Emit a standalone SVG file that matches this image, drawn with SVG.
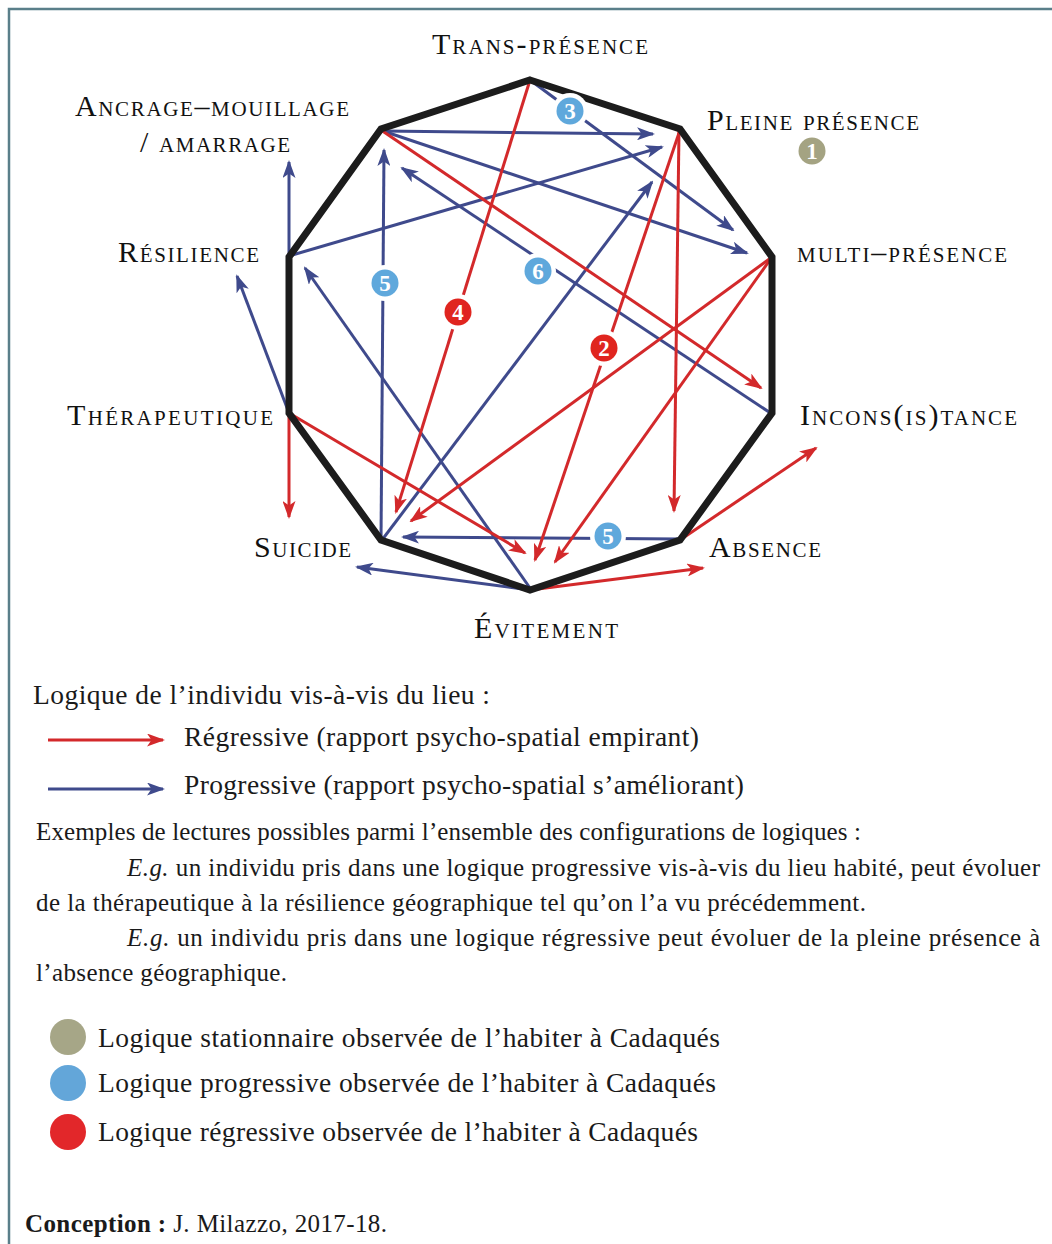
<svg xmlns="http://www.w3.org/2000/svg" width="1052" height="1244" viewBox="0 0 1052 1244">
<style>
.lbl{font-family:"Liberation Serif",serif;font-variant:small-caps;font-size:30px;fill:#111}
.txt{font-family:"Liberation Serif",serif;font-size:27.5px;fill:#1a1a1a}
.sm{font-family:"Liberation Serif",serif;font-size:25px;fill:#1a1a1a}
.b{stroke:#3f4a8c;stroke-width:3;fill:none}
.r{stroke:#d3292b;stroke-width:3;fill:none}
.ba{marker-end:url(#ab)}
.ra{marker-end:url(#ar)}
.num{font-family:"Liberation Serif",serif;font-weight:bold;font-size:23px;fill:#fff;text-anchor:middle}
</style>
<defs>
<marker id="ab" viewBox="0 0 18 13" refX="16" refY="6.5" markerWidth="18" markerHeight="13" markerUnits="userSpaceOnUse" orient="auto"><path d="M0,0 L18,6.5 L0,13 L4.5,6.5 Z" fill="#3f4a8c"/></marker>
<marker id="ar" viewBox="0 0 18 13" refX="16" refY="6.5" markerWidth="18" markerHeight="13" markerUnits="userSpaceOnUse" orient="auto"><path d="M0,0 L18,6.5 L0,13 L4.5,6.5 Z" fill="#d3292b"/></marker>
</defs>
<rect width="1052" height="1244" fill="#fff"/>
<path d="M9,1244 V9 H1052" fill="none" stroke="#5a7f8a" stroke-width="2.5"/>

<g id="connectors">
<line class="b ba" x1="383" y1="131" x2="653" y2="134"/>
<line class="b ba" x1="383" y1="131" x2="747" y2="253"/>
<line class="b ba" x1="289" y1="256" x2="662" y2="147"/>
<line class="b ba" x1="382" y1="540" x2="652" y2="182"/>
<line class="b ba" x1="381" y1="540" x2="384" y2="150"/>
<line class="b ba" x1="772" y1="414" x2="402" y2="168"/>
<line class="b ba" x1="530" y1="80" x2="733" y2="230"/>
<line class="b ba" x1="530" y1="588" x2="305" y2="268"/>
<line class="b ba" x1="289" y1="413" x2="237" y2="276"/>
<line class="b ba" x1="289" y1="257" x2="289" y2="162"/>
<line class="b ba" x1="680" y1="539" x2="403" y2="537"/>
<line class="b ba" x1="530" y1="590" x2="357" y2="567"/>
<line class="r ra" x1="530" y1="80" x2="396" y2="512"/>
<line class="r ra" x1="381" y1="130" x2="761" y2="388"/>
<line class="r ra" x1="680" y1="130" x2="535" y2="560"/>
<line class="r ra" x1="679" y1="130" x2="674" y2="511"/>
<line class="r ra" x1="772" y1="257" x2="411" y2="521"/>
<line class="r ra" x1="772" y1="257" x2="555" y2="562"/>
<line class="r ra" x1="289" y1="413" x2="525" y2="553"/>
<line class="r ra" x1="289" y1="413" x2="289" y2="517"/>
<line class="r ra" x1="530" y1="590" x2="703" y2="568"/>
<line class="r ra" x1="680" y1="540" x2="816" y2="448"/>
</g>

<g id="decagon">
<polygon points="530,80 680,129 772,257 772,413 680,540 530,590 381,540 289,413 289,257 381,129" fill="none" stroke="#1c1c1c" stroke-width="7" stroke-linejoin="miter"/>
</g>

<g id="badges">
<g id="badge1"><circle cx="812" cy="151" r="13.5" fill="#a4a382"/><text class="num" x="812" y="159">1</text></g>
<g id="badge2"><circle cx="604" cy="348" r="18" fill="#fff"/><circle cx="604" cy="348" r="13.5" fill="#e0251f"/><text class="num" x="604" y="356">2</text></g>
<g id="badge3"><circle cx="570" cy="111" r="18" fill="#fff"/><circle cx="570" cy="111" r="13.5" fill="#5fa8dc"/><text class="num" x="570" y="119">3</text></g>
<g id="badge4"><circle cx="458" cy="312" r="18" fill="#fff"/><circle cx="458" cy="312" r="13.5" fill="#e0251f"/><text class="num" x="458" y="320">4</text></g>
<g id="badge5a"><circle cx="385" cy="283" r="18" fill="#fff"/><circle cx="385" cy="283" r="13.5" fill="#5fa8dc"/><text class="num" x="385" y="291">5</text></g>
<g id="badge5b"><circle cx="608" cy="536" r="18" fill="#fff"/><circle cx="608" cy="536" r="13.5" fill="#5fa8dc"/><text class="num" x="608" y="544">5</text></g>
<g id="badge6"><circle cx="538" cy="271" r="18" fill="#fff"/><circle cx="538" cy="271" r="13.5" fill="#5fa8dc"/><text class="num" x="538" y="279">6</text></g>
</g>

<g id="n-trans"><text class="lbl" x="432" y="54" textLength="216" lengthAdjust="spacing">Trans-présence</text></g>
<g id="n-ancrage"><text class="lbl" x="75" y="116" textLength="274" lengthAdjust="spacing">Ancrage–mouillage</text><text class="lbl" x="140" y="152" textLength="150" lengthAdjust="spacing">/ amarrage</text></g>
<g id="n-pleine"><text class="lbl" x="707" y="130" textLength="212" lengthAdjust="spacing">Pleine présence</text></g>
<g id="n-resilience"><text class="lbl" x="118" y="262" textLength="141" lengthAdjust="spacing">Résilience</text></g>
<g id="n-multi"><text class="lbl" x="797" y="262" textLength="210" lengthAdjust="spacing">multi–présence</text></g>
<g id="n-therapeutique"><text class="lbl" x="67" y="425" textLength="206" lengthAdjust="spacing">Thérapeutique</text></g>
<g id="n-inconstance"><text class="lbl" x="800" y="425" textLength="217" lengthAdjust="spacing">Incons(is)tance</text></g>
<g id="n-suicide"><text class="lbl" x="254" y="557" textLength="97" lengthAdjust="spacing">Suicide</text></g>
<g id="n-absence"><text class="lbl" x="709" y="557" textLength="112" lengthAdjust="spacing">Absence</text></g>
<g id="n-evitement"><text class="lbl" x="474" y="638" textLength="144" lengthAdjust="spacing">Évitement</text></g>

<g id="legend">
<text class="txt" x="33" y="704" textLength="457" lengthAdjust="spacing">Logique de l’individu vis-à-vis du lieu :</text>
<line class="r ra" x1="48" y1="740" x2="163" y2="740"/>
<text class="txt" x="184" y="746" textLength="515" lengthAdjust="spacing">Régressive (rapport psycho-spatial empirant)</text>
<line class="b ba" x1="48" y1="789" x2="163" y2="789"/>
<text class="txt" x="184" y="794" textLength="560" lengthAdjust="spacing">Progressive (rapport psycho-spatial s’améliorant)</text>
<text class="sm" x="36" y="840" textLength="825" lengthAdjust="spacing">Exemples de lectures possibles parmi l’ensemble des configurations de logiques :</text>
<text class="sm" x="127" y="876" textLength="913" lengthAdjust="spacing"><tspan font-style="italic">E.g.</tspan> un individu pris dans une logique progressive vis-à-vis du lieu habité, peut évoluer</text>
<text class="sm" x="36" y="911" textLength="830" lengthAdjust="spacing">de la thérapeutique à la résilience géographique tel qu’on l’a vu précédemment.</text>
<text class="sm" x="127" y="946" textLength="913" lengthAdjust="spacing"><tspan font-style="italic">E.g.</tspan> un individu pris dans une logique régressive peut évoluer de la pleine présence à</text>
<text class="sm" x="36" y="981" textLength="251" lengthAdjust="spacing">l’absence géographique.</text>
<circle cx="68" cy="1037" r="18" fill="#a6a687"/>
<text class="txt" x="98" y="1047" textLength="622" lengthAdjust="spacing">Logique stationnaire observée de l’habiter à Cadaqués</text>
<circle cx="68" cy="1083" r="18" fill="#63a6d9"/>
<text class="txt" x="98" y="1092" textLength="618" lengthAdjust="spacing">Logique progressive observée de l’habiter à Cadaqués</text>
<circle cx="68" cy="1132" r="18" fill="#e2272a"/>
<text class="txt" x="98" y="1141" textLength="600" lengthAdjust="spacing">Logique régressive observée de l’habiter à Cadaqués</text>
<text class="sm" x="25" y="1232" textLength="362" lengthAdjust="spacing"><tspan font-weight="bold">Conception :</tspan> J. Milazzo, 2017-18.</text>
</g>
</svg>
